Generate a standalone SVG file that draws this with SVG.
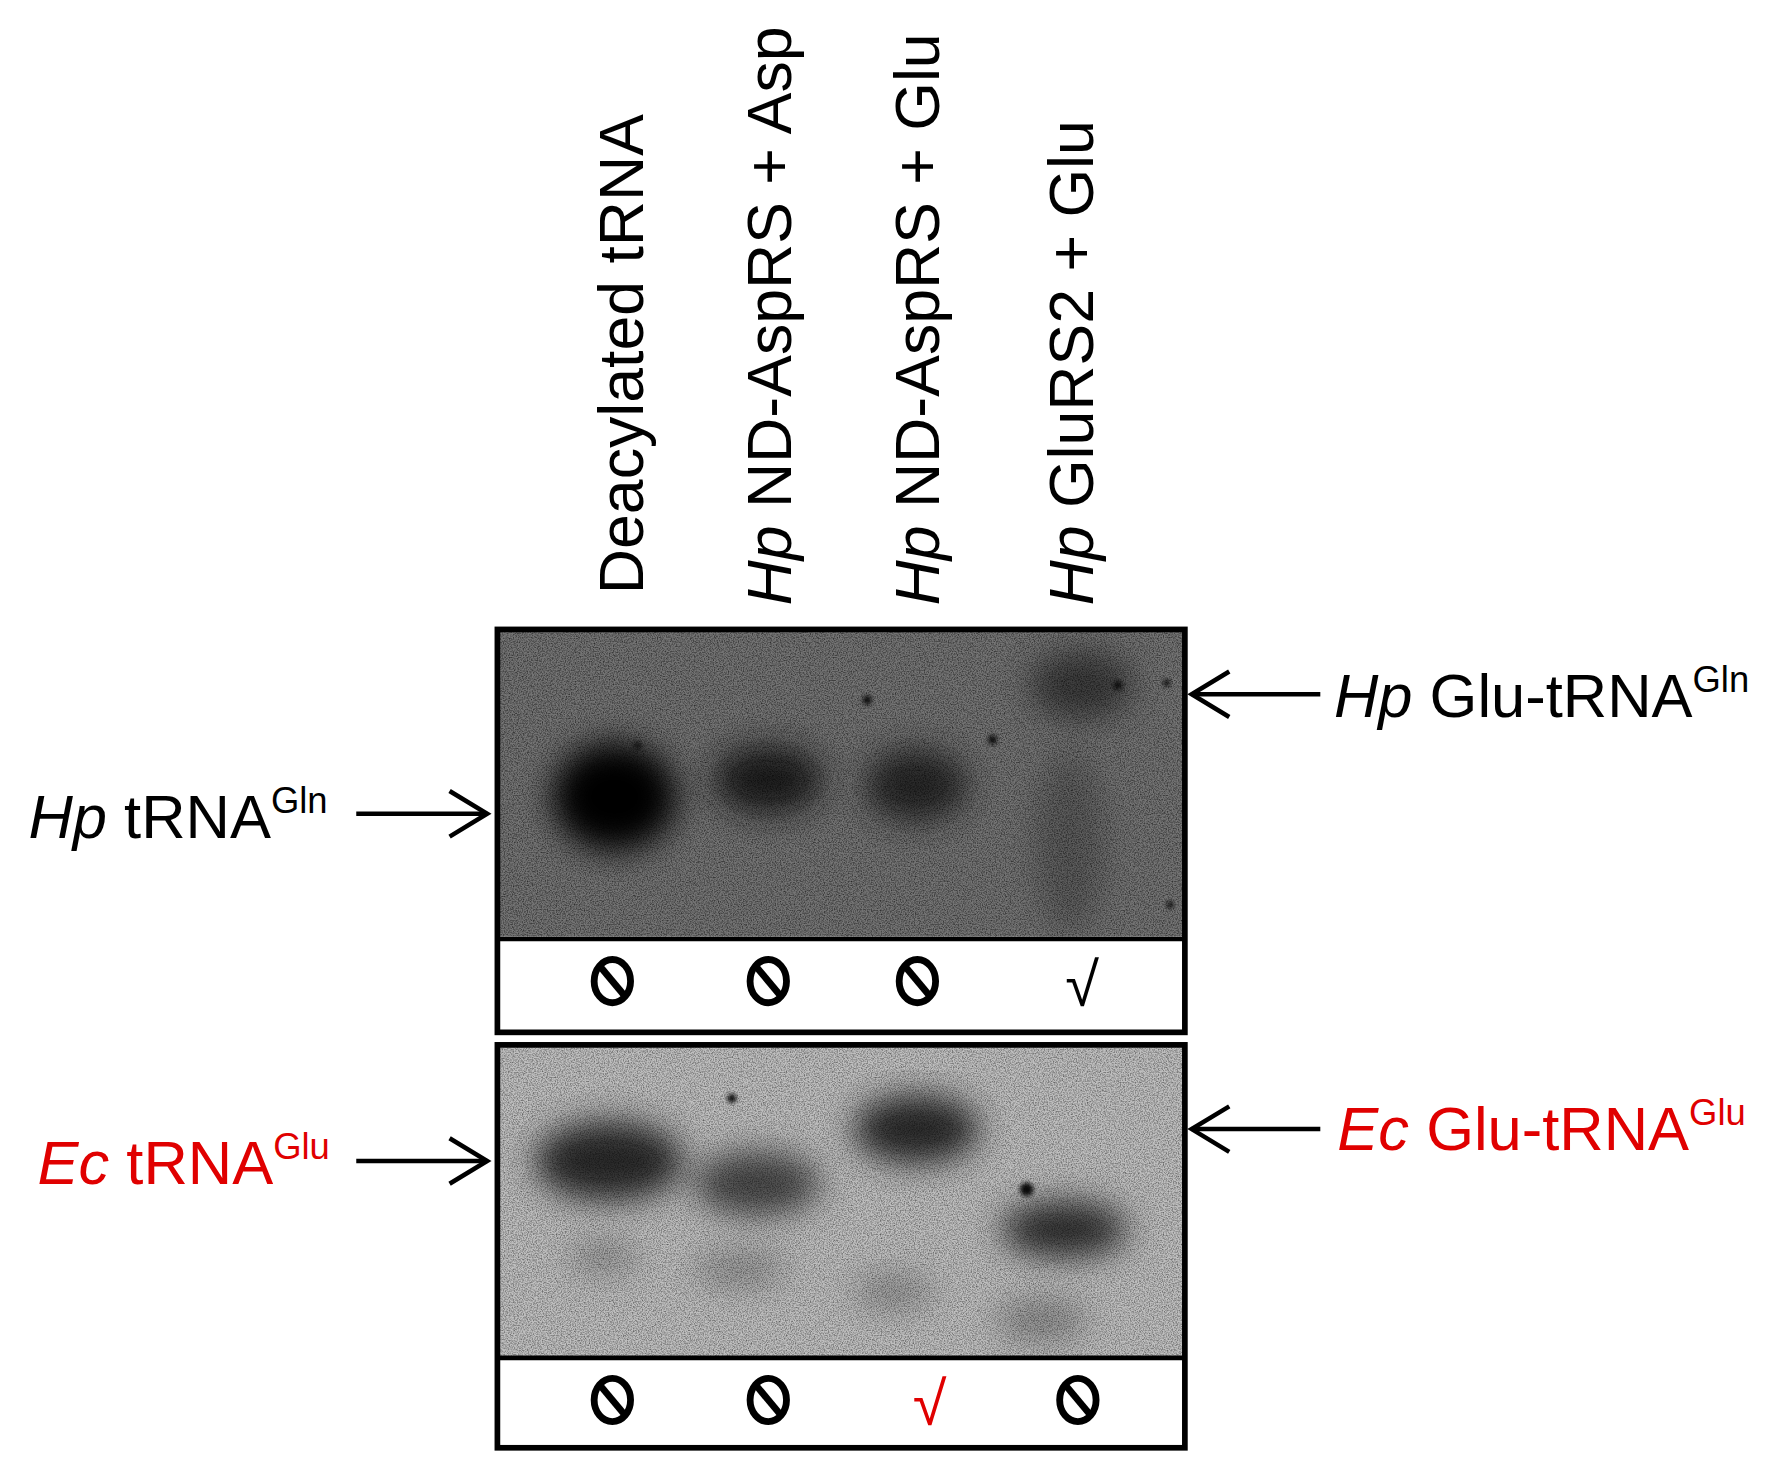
<svg xmlns="http://www.w3.org/2000/svg" width="1779" height="1469" viewBox="0 0 1779 1469">
<style>
.t{font-family:"Liberation Sans",Arial,sans-serif;font-size:54px;fill:#000}
.v{font-size:55px}
.r{fill:#e00000}
.sup{font-size:32px}
.ar{stroke:#000;stroke-width:4;fill:none}
.box{fill:none;stroke:#000;stroke-width:5}
.no{fill:none;stroke:#000;stroke-width:6}
</style>
<defs>
<filter id="noise" x="0" y="0" width="1" height="1">
<feTurbulence type="fractalNoise" baseFrequency="0.9" numOctaves="2" seed="3"/>
<feColorMatrix type="matrix" values="0 0 0 0 0  0 0 0 0 0  0 0 0 0 0  0 0 0 -1.2 0.75"/>
</filter>
<filter id="b1"><feGaussianBlur stdDeviation="14"/></filter>
<filter id="b2"><feGaussianBlur stdDeviation="2"/></filter>
<clipPath id="c1"><rect x="437" y="553" width="604" height="270"/></clipPath>
<clipPath id="c2"><rect x="437" y="918" width="604" height="274"/></clipPath>
</defs>
<g transform="scale(1.1382)">
<g id="labels">
<text class="t v" transform="translate(565,522) rotate(-90)">Deacylated tRNA</text>
<text class="t v" transform="translate(695,532) rotate(-90)"><tspan font-style="italic">Hp</tspan> ND-AspRS + Asp</text>
<text class="t v" transform="translate(825,532) rotate(-90)"><tspan font-style="italic">Hp</tspan> ND-AspRS + Glu</text>
<text class="t v" transform="translate(960,532) rotate(-90)"><tspan font-style="italic">Hp</tspan> GluRS2 + Glu</text>
</g>
<g id="gel-top">
<g clip-path="url(#c1)">
<rect x="437" y="553" width="604" height="270" fill="#747474"/>
<g filter="url(#b1)">
<ellipse cx="540" cy="700" rx="55" ry="48" fill="#000"/>
<ellipse cx="675" cy="685" rx="48" ry="30" fill="#1a1a1a"/>
<ellipse cx="805" cy="690" rx="45" ry="32" fill="#262626"/>
<ellipse cx="950" cy="602" rx="45" ry="30" fill="#3a3a3a"/>
<ellipse cx="940" cy="740" rx="30" ry="80" fill="#5a5a5a"/>
</g>
<g filter="url(#b2)" fill="#111">
<circle cx="762" cy="615" r="4"/><circle cx="872" cy="650" r="4"/><circle cx="982" cy="602" r="4"/><circle cx="1025" cy="600" r="3"/><circle cx="560" cy="655" r="3"/><circle cx="1028" cy="795" r="3"/>
</g>
<rect x="437" y="553" width="604" height="270" filter="url(#noise)"/>
</g>
<rect class="box" x="437" y="553" width="604" height="354"/>
<line x1="437" y1="825" x2="1041" y2="825" stroke="#000" stroke-width="4"/>
</g>
<g id="gel-bottom">
<g clip-path="url(#c2)">
<rect x="437" y="918" width="604" height="274" fill="#bfbfbf"/>
<g filter="url(#b1)">
<ellipse cx="535" cy="1020" rx="65" ry="35" fill="#2a2a2a"/>
<ellipse cx="665" cy="1040" rx="55" ry="28" fill="#4a4a4a"/>
<ellipse cx="805" cy="992" rx="55" ry="30" fill="#2a2a2a"/>
<ellipse cx="935" cy="1080" rx="55" ry="25" fill="#333"/>
<ellipse cx="530" cy="1105" rx="30" ry="12" fill="#888"/>
<ellipse cx="650" cy="1115" rx="40" ry="14" fill="#8a8a8a"/>
<ellipse cx="785" cy="1135" rx="35" ry="14" fill="#8a8a8a"/>
<ellipse cx="915" cy="1160" rx="40" ry="18" fill="#888"/>
</g>
<g filter="url(#b2)" fill="#111">
<circle cx="643" cy="965" r="4"/><circle cx="902" cy="1045" r="6"/>
</g>
<rect x="437" y="918" width="604" height="274" filter="url(#noise)" opacity="0.8"/>
</g>
<rect class="box" x="437" y="918" width="604" height="354"/>
<line x1="437" y1="1193" x2="1041" y2="1193" stroke="#000" stroke-width="4"/>
</g>
<g id="marks">
<g class="no"><ellipse cx="538" cy="862" rx="16" ry="19"/><line x1="528" y1="850" x2="548" y2="874"/></g>
<g class="no"><ellipse cx="675" cy="862" rx="16" ry="19"/><line x1="665" y1="850" x2="685" y2="874"/></g>
<g class="no"><ellipse cx="806" cy="862" rx="16" ry="19"/><line x1="796" y1="850" x2="816" y2="874"/></g>
<text class="t" x="936" y="884" font-size="62">√</text>
<g class="no"><ellipse cx="538" cy="1230" rx="16" ry="19"/><line x1="528" y1="1218" x2="548" y2="1242"/></g>
<g class="no"><ellipse cx="675" cy="1230" rx="16" ry="19"/><line x1="665" y1="1218" x2="685" y2="1242"/></g>
<text class="t r" x="802" y="1252" font-size="62">√</text>
<g class="no"><ellipse cx="947" cy="1230" rx="16" ry="19"/><line x1="937" y1="1218" x2="957" y2="1242"/></g>
</g>
<g id="side-labels">
<text class="t" x="25" y="736"><tspan font-style="italic">Hp</tspan> tRNA<tspan class="sup" dy="-22">Gln</tspan></text>
<text class="t" x="1172" y="630"><tspan font-style="italic">Hp</tspan> Glu-tRNA<tspan class="sup" dy="-22">Gln</tspan></text>
<text class="t r" x="33" y="1040"><tspan font-style="italic">Ec</tspan> tRNA<tspan class="sup" dy="-22">Glu</tspan></text>
<text class="t r" x="1175" y="1010"><tspan font-style="italic">Ec</tspan> Glu-tRNA<tspan class="sup" dy="-22">Glu</tspan></text>
</g>
<g id="connectors" class="ar">
<line x1="313" y1="715" x2="428" y2="715"/><polyline points="395,695 428,715 395,735"/>
<line x1="1160" y1="610" x2="1047" y2="610"/><polyline points="1080,590 1047,610 1080,630"/>
<line x1="313" y1="1020" x2="428" y2="1020"/><polyline points="395,1000 428,1020 395,1040"/>
<line x1="1160" y1="992" x2="1047" y2="992"/><polyline points="1080,972 1047,992 1080,1012"/>
</g>
</g>
</svg>
